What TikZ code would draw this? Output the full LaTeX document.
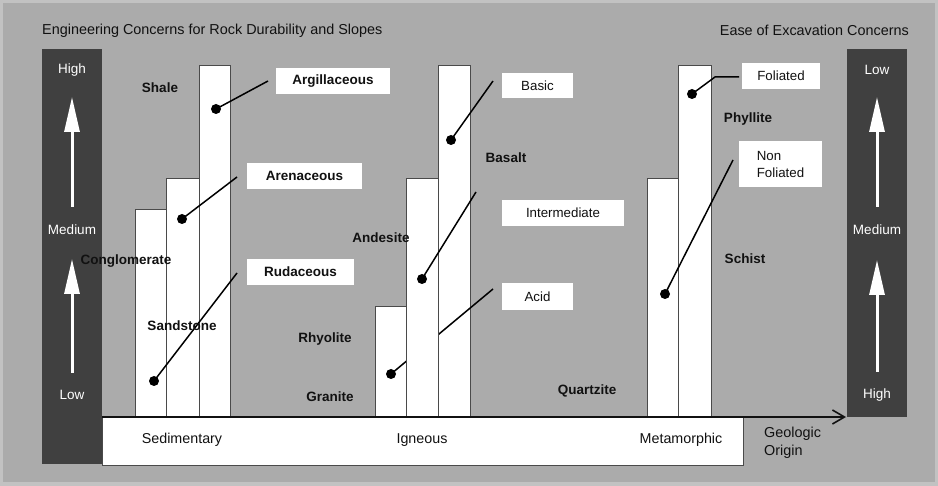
\documentclass[tikz,border=0pt]{standalone}
\usepackage{fontspec}
\setmainfont{Liberation Sans}
\usetikzlibrary{arrows.meta}
\definecolor{cpanel}{HTML}{ABABAB}
\definecolor{crim}{HTML}{C2C2C2}
\definecolor{cscale}{HTML}{404040}
\definecolor{cedge}{HTML}{4A4A4A}
\definecolor{cink}{HTML}{111111}
\tikzset{
  colbar/.style={fill=white, draw=cedge, line width=0.8pt},
  tag/.style={fill=white, inner sep=0pt, font=\fontsize{13.3}{15}\selectfont, text=cink},
  rock/.style={font=\bfseries\fontsize{13.5}{15}\selectfont, text=cink, inner sep=0pt},
  group/.style={font=\fontsize{14.3}{16}\selectfont, text=cink, inner sep=0pt},
  level/.style={font=\fontsize{13.5}{15}\selectfont, text=white, inner sep=0pt},
  headline/.style={font=\fontsize{14.4}{16}\selectfont, text=cink, inner sep=0pt},
  dot/.style={circle, fill=black, inner sep=0pt, minimum size=10pt},
  lead/.style={draw=black, line width=1.5pt},
  uparrow/.style={draw=white, line width=3pt, -{Triangle[length=35pt,width=15pt,fill=white]}},
}
\begin{document}
\begin{tikzpicture}[x=1pt,y=-1pt]
\useasboundingbox (0,0) rectangle (938,486);
% backdrop
\fill[crim] (0,0) rectangle (938,486);
\fill[cpanel] (3,3) rectangle (935,482);

% headings
\node[headline, anchor=west] (lefthead) at (42,31) {Engineering Concerns for Rock Durability and Slopes};
\node[headline, anchor=east] (righthead) at (909,30) {Ease of Excavation Concerns};

% rating scales
\fill[cscale] (42,49) rectangle (102,464);
\fill[cscale] (847,49) rectangle (907,417);
\node[level] (lhigh) at (72,70) {High};
\node[level] (lmed) at (72,230) {Medium};
\node[level] (llow) at (72,395) {Low};
\node[level] (rlow) at (877,70) {Low};
\node[level] (rmed) at (877,230) {Medium};
\node[level] (rhigh) at (877,395) {High};
\coordinate (la1) at (72,207); \coordinate (la1t) at (72,97);
\coordinate (la2) at (72,373); \coordinate (la2t) at (72,259);
\coordinate (ra1) at (877,207); \coordinate (ra1t) at (877,97);
\coordinate (ra2) at (877,372); \coordinate (ra2t) at (877,260);
\draw[uparrow] (la1) -- (la1t);
\draw[uparrow] (la2) -- (la2t);
\draw[uparrow] (ra1) -- (ra1t);
\draw[uparrow] (ra2) -- (ra2t);

% origin band
\draw[fill=white, draw=cedge, line width=0.8pt] (102,417) rectangle (743,465);
\node[group] (sed) at (182,440) {Sedimentary};
\node[group] (ign) at (422,440) {Igneous};
\node[group] (met) at (681,440) {Metamorphic};

% sedimentary columns
\draw[colbar] (135,209) rectangle (166,417);
\draw[colbar] (166,178) rectangle (199,417);
\draw[colbar] (199,65) rectangle (230,417);

% igneous columns
\draw[colbar] (375,306) rectangle (406,417);
\draw[colbar] (438,65) rectangle (470,417);
\node[dot] (dacid) at (391,374) {};
\coordinate (eacid) at (493,289);
\draw[lead] (dacid.center) -- (eacid);
\draw[colbar] (406,178) rectangle (438,417);

% metamorphic columns
\draw[colbar] (647,178) rectangle (678,417);
\draw[colbar] (678,65) rectangle (711,417);

% geologic origin axis
\coordinate (axstart) at (102,417);
\coordinate (axend) at (846,417);
\draw[line width=1.6pt, draw=cink, -{Straight Barb[length=12pt,width=14pt,line width=1.6pt]}] (axstart) -- (axend);
\node[group, anchor=west, align=left, font=\fontsize{14.4}{18}\selectfont] (origin) at (764,443) {Geologic\\Origin};

% category labels
\node[tag, minimum width=114pt, minimum height=26pt, font=\bfseries\fontsize{13.5}{15}\selectfont] (arg) at (333,81) {Argillaceous};
\node[tag, minimum width=115pt, minimum height=26pt, font=\bfseries\fontsize{13.5}{15}\selectfont] (are) at (304.5,176) {Arenaceous};
\node[tag, minimum width=107pt, minimum height=26pt, font=\bfseries\fontsize{13.5}{15}\selectfont] (rud) at (300.5,272) {Rudaceous};
\node[tag, minimum width=71pt, minimum height=25pt] (bas) at (537.5,85.5) {Basic};
\node[tag, minimum width=122pt, minimum height=26pt] (int) at (563,213) {Intermediate};
\node[tag, minimum width=71pt, minimum height=27pt] (aci) at (537.5,296.5) {Acid};
\node[tag, minimum width=78pt, minimum height=26pt] (fol) at (781,76) {Foliated};
\node[tag, minimum width=83pt, minimum height=46pt, align=left, font=\fontsize{13.3}{17}\selectfont] (nfol) at (780.5,164) {Non\\Foliated};

% leaders
\node[dot] (dshale) at (216,109) {};
\coordinate (eshale) at (268,81);
\draw[lead] (dshale.center) -- (eshale);
\node[dot] (dsand) at (182,219) {};
\coordinate (esand) at (237,177);
\draw[lead] (dsand.center) -- (esand);
\node[dot] (dcong) at (154,381) {};
\coordinate (econg) at (237,273);
\draw[lead] (dcong.center) -- (econg);
\node[dot] (dbas) at (451,140) {};
\coordinate (ebas) at (493,81);
\draw[lead] (dbas.center) -- (ebas);
\node[dot] (dand) at (422,279) {};
\coordinate (eand) at (476,192);
\draw[lead] (dand.center) -- (eand);
\node[dot] (dfol) at (692,94) {};
\coordinate (kfol) at (715,77);
\coordinate (efol) at (739,77);
\draw[lead] (dfol.center) -- (kfol) -- (efol);
\node[dot] (dnfol) at (665,294) {};
\coordinate (enfol) at (733,160);
\draw[lead] (dnfol.center) -- (enfol);

% rock names
\node[rock] (shale) at (160,88) {Shale};
\node[rock] (cong) at (126,261) {Conglomerate};
\node[rock] (sand) at (182,326) {Sandstone};
\node[rock] (basalt) at (506,158) {Basalt};
\node[rock] (andes) at (381,238) {Andesite};
\node[rock] (rhyo) at (325,339) {Rhyolite};
\node[rock] (gran) at (330,397) {Granite};
\node[rock] (quartz) at (587,391) {Quartzite};
\node[rock] (phyl) at (748,119) {Phyllite};
\node[rock] (schist) at (745,259) {Schist};
\end{tikzpicture}
\end{document}
